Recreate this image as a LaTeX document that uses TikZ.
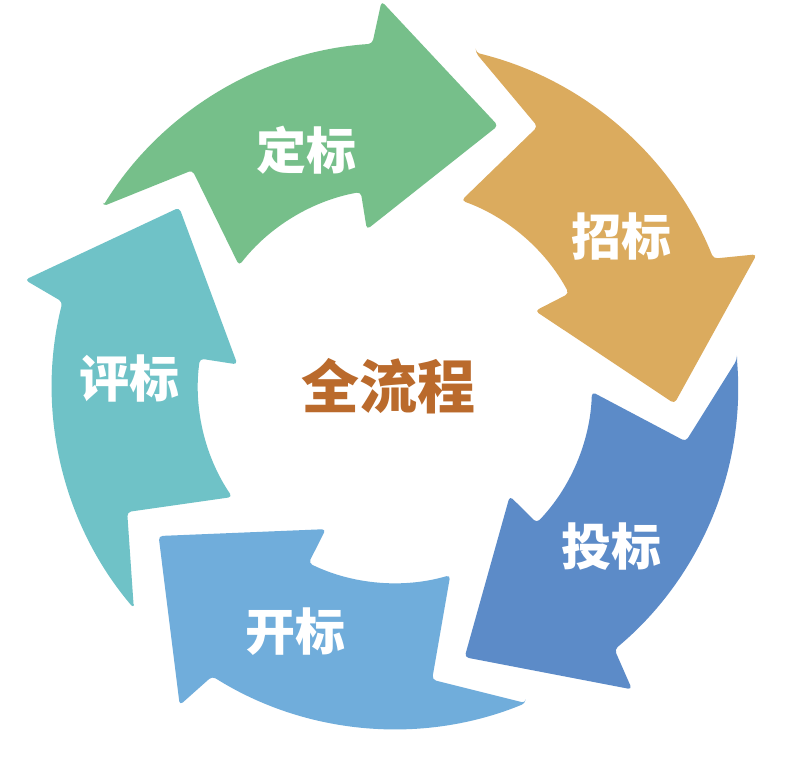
\documentclass[tikz,border=0pt]{standalone}
\usepackage{fontspec}
\newfontfamily\cjk{Noto Sans CJK SC}
\definecolor{cgreen}{RGB}{118,191,138}
\definecolor{corange}{RGB}{219,171,94}
\definecolor{cblue}{RGB}{92,139,200}
\definecolor{clblue}{RGB}{112,173,219}
\definecolor{cteal}{RGB}{111,194,199}
\definecolor{ctext}{RGB}{186,106,44}
\tikzset{
  arrowshape/.style={rounded corners=4pt},
  lbl/.style={text=white, inner sep=0pt, font=\cjk\bfseries\fontsize{50}{50}\selectfont},
  centertext/.style={text=ctext, inner sep=0pt, font=\cjk\bfseries\fontsize{58}{58}\selectfont}
}
\begin{document}
\begin{tikzpicture}[x=1pt,y=-1pt]
\fill[white] (0,0) rectangle (800,778);
\useasboundingbox (0,0) rectangle (800,778);
\begin{scope}[shift={(395,386)}]
\foreach \T/\col in {-68.4/cgreen, 3.6/corange, 75.6/cblue, 147.6/clblue, 219.6/cteal}{
  \pgfmathsetmacro\aTO{\T-80}
  \pgfmathsetmacro\aN{\T-64.8}
  \pgfmathsetmacro\aTI{\T-73.9}
  \pgfmathsetmacro\aIS{\T-31.6}
  \pgfmathsetmacro\aIB{\T-31.8}
  \pgfmathsetmacro\aOB{\T-23.6}
  \pgfmathsetmacro\aOS{\T-25.4}
  \fill[\col, arrowshape] (\aTO:343) -- (\aN:296) -- (\aTI:197)
    arc[start angle=\aTI, end angle=\aIS, radius=197]
    -- (\aIB:159) -- (\T:280) -- (\aOB:385) -- (\aOS:343)
    arc[start angle=\aOS, end angle=\aTO, radius=343] -- cycle;
}
\end{scope}
% labels
\node[lbl] (dingbiao) at (306,150) {定标};
\node[lbl] (zhaobiao) at (621,236) {招标};
\node[lbl] (toubiao) at (611,547) {投标};
\node[lbl] (kaibiao) at (295,632) {开标};
\node[lbl] (pingbiao) at (129,378) {评标};
\node[centertext] (quan) at (388,386) {全流程};
\end{tikzpicture}
\end{document}
